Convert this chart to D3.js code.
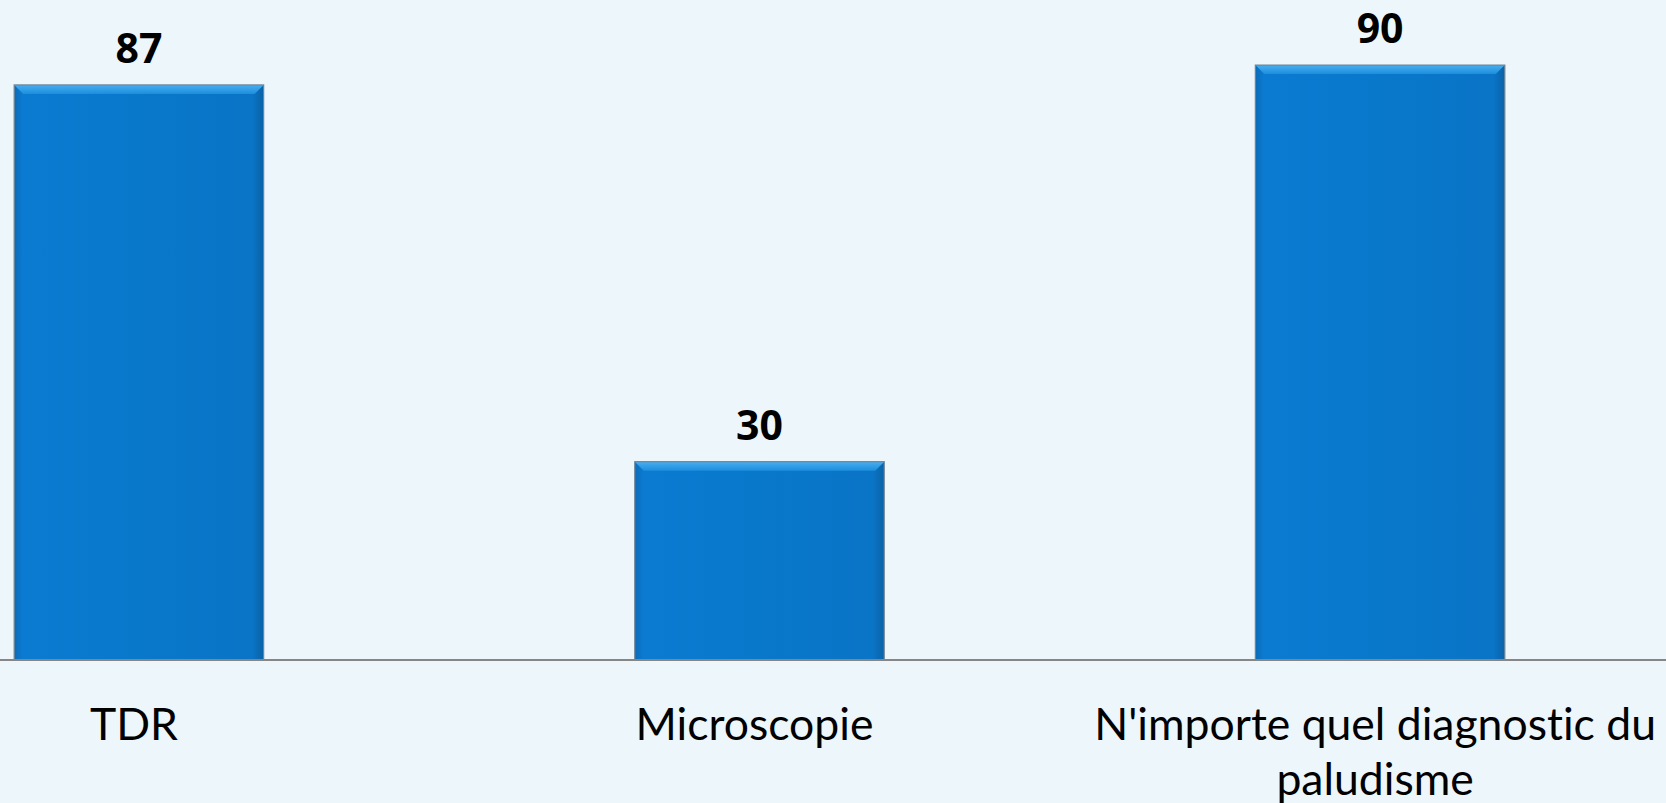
<!DOCTYPE html>
<html>
<head>
<meta charset="utf-8">
<script src="https://cdn.jsdelivr.net/npm/d3@7"></script>
<style>
  html, body { margin: 0; padding: 0; background: #ECF6FB; }
  svg { display: block; }
  text { font-variant-ligatures: none; font-feature-settings: "liga" 0, "clig" 0; }
</style>
</head>
<body>
<svg id="chart" width="1666" height="803"></svg>
<script>
const categories = ["TDR", "Microscopie", "N'importe quel diagnostic du paludisme"];
const values = [87, 30, 90];
const yDomain = [0, 100];

const W = 1666, H = 803;
const svg = d3.select("#chart");
svg.append("rect").attr("width", W).attr("height", H).attr("fill", "#ECF6FB");

const x = d3.scaleBand().domain(categories).range([-172, 1691]).paddingInner(0.598).paddingOuter(0.3);
const y = d3.scaleLinear().domain(yDomain).range([660, -1]);

const defs = svg.append("defs");
const side = defs.append("linearGradient").attr("id", "side").attr("x1", 0).attr("x2", 1).attr("y1", 0).attr("y2", 0);
side.append("stop").attr("offset", "0").attr("stop-color", "#0A6CB8");
side.append("stop").attr("offset", "0.035").attr("stop-color", "#0B7BD2");
side.append("stop").attr("offset", "0.5").attr("stop-color", "#0878CB");
side.append("stop").attr("offset", "0.955").attr("stop-color", "#0A74C6");
side.append("stop").attr("offset", "1").attr("stop-color", "#0A62A6");
const topG = defs.append("linearGradient").attr("id", "topg").attr("x1", 0).attr("x2", 0).attr("y1", 0).attr("y2", 1);
topG.append("stop").attr("offset", "0").attr("stop-color", "#47AEF2");
topG.append("stop").attr("offset", "1").attr("stop-color", "#1D8EDC");

const bars = svg.append("g").selectAll("g").data(categories).join("g");
bars.append("rect")
  .attr("x", d => x(d))
  .attr("y", (d, i) => y(values[i]))
  .attr("width", x.bandwidth())
  .attr("height", (d, i) => y(0) - y(values[i]))
  .attr("fill", "url(#side)");
const bev = 9;
bars.append("path")
  .attr("d", (d, i) => {
    const x0 = x(d), x1 = x(d) + x.bandwidth(), t = y(values[i]);
    return `M${x0},${t}L${x1},${t}L${x1 - bev},${t + bev}L${x0 + bev},${t + bev}Z`;
  })
  .attr("fill", "url(#topg)");
bars.append("rect")
  .attr("x", d => x(d))
  .attr("y", (d, i) => y(values[i]))
  .attr("width", x.bandwidth())
  .attr("height", (d, i) => y(0) - y(values[i]))
  .attr("fill", "none")
  .attr("stroke", "#6E8596")
  .attr("stroke-width", 1.2);

// value labels
svg.append("g").selectAll("text").data(categories).join("text")
  .attr("x", d => x(d) + x.bandwidth() / 2)
  .attr("y", (d, i) => y(values[i]) - 22)
  .attr("text-anchor", "middle")
  .attr("font-family", "'Open Sans', sans-serif")
  .attr("font-weight", "bold")
  .attr("font-size", 41)
  .attr("fill", "#000")
  .text((d, i) => values[i]);

// baseline axis
const axis = d3.axisBottom(x).tickSize(0).tickFormat("");
const ax = svg.append("g").attr("transform", `translate(0,${y(0)})`).call(axis);
ax.select(".domain").remove();
svg.append("line").attr("x1", 0).attr("x2", W).attr("y1", y(0)).attr("y2", y(0))
  .attr("stroke", "#868686").attr("stroke-width", 2);

// category labels (wrapped)
const maxLabelWidth = x.step() * 0.97;
const lab = svg.append("g").selectAll("text").data(categories).join("text")
  .attr("font-family", "Lato, 'Open Sans', sans-serif")
  .attr("font-size", 44.5)
  .attr("fill", "#000")
  .attr("text-anchor", "middle");
lab.each(function(d) {
  const t = d3.select(this);
  const words = d.split(" ");
  let lines = [], cur = [];
  const tmp = t.append("tspan");
  words.forEach(w => {
    const test = cur.concat([w]).join(" ");
    tmp.text(test);
    if (tmp.node().getComputedTextLength() > maxLabelWidth && cur.length) {
      lines.push(cur.join(" "));
      cur = [w];
    } else cur.push(w);
  });
  lines.push(cur.join(" "));
  tmp.remove();
  const cx = x(d) + x.bandwidth() / 2 - 5;
  lines.forEach((l, k) => {
    t.append("tspan").attr("x", cx).attr("y", 740 + k * 55).text(l);
  });
});
</script>
</body>
</html>
